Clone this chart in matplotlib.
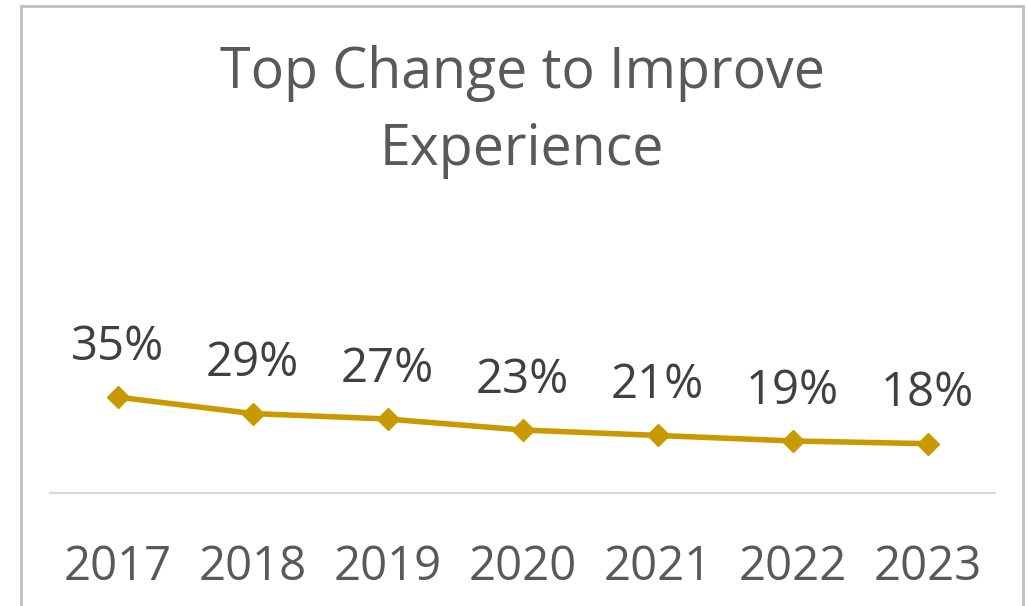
import matplotlib.pyplot as plt
from matplotlib.patches import Rectangle

years = ["2017", "2018", "2019", "2020", "2021", "2022", "2023"]
share = [0.35, 0.29, 0.27, 0.23, 0.21, 0.19, 0.18]
labels = ["35%", "29%", "27%", "23%", "21%", "19%", "18%"]

gold = "#C99A00"
plt.rcParams["font.family"] = ["Open Sans", "DejaVu Sans"]

fig = plt.figure(figsize=(10.28, 6.06), dpi=100)
ax = fig.add_axes([50 / 1028, 1 - 493 / 606, 945 / 1028, 274 / 606])

x = range(len(years))
ax.plot(x, share, color=gold, linewidth=4, marker="D", markersize=11,
        solid_capstyle="round")

for i, (v, t) in enumerate(zip(share, labels)):
    ax.annotate(t, (i, v), xytext=(0, 19), textcoords="offset points",
                ha="center", va="bottom", fontsize=34, color="#404040")

ax.set_xlim(-0.5, len(years) - 0.5)
ax.set_ylim(0, 1.0)
ax.set_xticks(list(x))
ax.set_xticklabels(years, fontsize=34, color="#595959")
ax.tick_params(axis="x", length=0, pad=36)
ax.set_yticks([])
for s in ["top", "right", "left"]:
    ax.spines[s].set_visible(False)
ax.spines["bottom"].set_color("#D9D9D9")
ax.spines["bottom"].set_linewidth(1.5)

fig.text(522 / 1028, 1 - 112 / 606, "Top Change to Improve\nExperience",
         ha="center", va="center", fontsize=40, color="#595959",
         linespacing=1.45)

# chart border
fig.patches.append(Rectangle((21 / 1028, -0.02), (1023 - 21) / 1028, 1 - 6 / 606 + 0.02,
                             transform=fig.transFigure, fill=False,
                             edgecolor="#BFBFBF", linewidth=2))

fig.savefig("out.png", dpi=100)
